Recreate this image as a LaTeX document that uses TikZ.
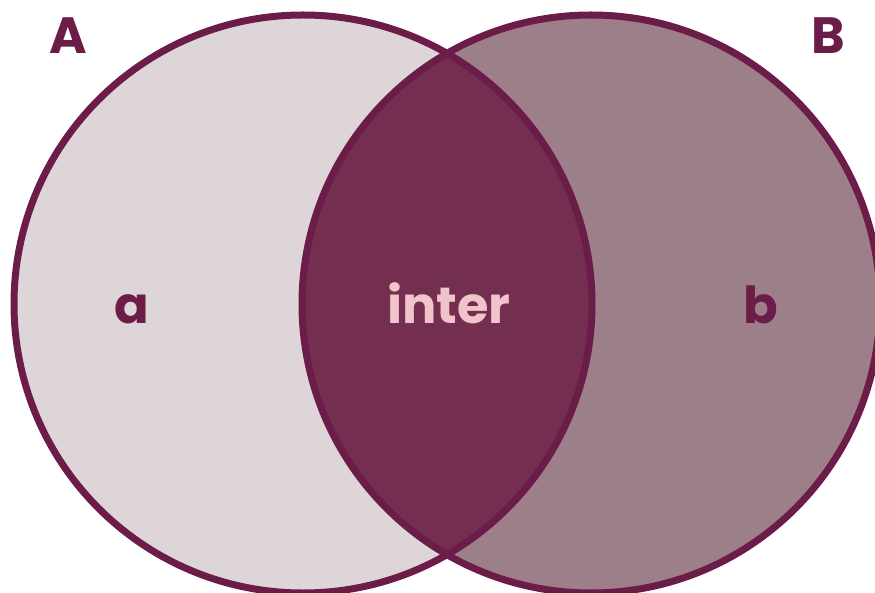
\documentclass[tikz,border=0pt]{standalone}
\usepackage{fontspec}
\setmainfont{Poppins}
\usepackage{xcolor}
\usepackage{tikz}
\usetikzlibrary{positioning}

\definecolor{plum}{HTML}{6B1C48}
\definecolor{setafill}{HTML}{DED5D8}
\definecolor{setbfill}{HTML}{9C7F89}
\definecolor{interfill}{HTML}{732E50}
\definecolor{interpink}{HTML}{F1C3CA}

\begin{document}
\begin{tikzpicture}[
  x=1pt, y=-1pt,
  setcircle/.style={circle, inner sep=0pt, minimum size=578pt},
  ring/.style={draw=plum, line width=7pt},
  setname/.style={font=\fontsize{51}{51}\selectfont\bfseries, text=plum, anchor=base, inner sep=0pt},
  region/.style={font=\fontsize{51}{51}\selectfont\bfseries, anchor=base, inner sep=0pt}
]
\clip (0,0) rectangle (875,593);

% the two sets
\node[setcircle, fill=setafill] (seta) at (303,304) {};
\node[setcircle, fill=setbfill] (setb) at (591,304) {};

% overlap
\begin{scope}
  \clip (seta.center) circle (289pt);
  \fill[interfill] (setb.center) circle (289pt);
\end{scope}

\draw[ring] (seta.center) circle (289pt);
\draw[ring] (setb.center) circle (289pt);

% labels
\node[setname] (labA) at (68,54) {A};
\node[setname] (labB) at (828,54) {B};
\node[region, text=plum] (onlya) at (132,324) {a};
\node[region, text=interpink] (inter) at (449,324) {inter};
\node[region, text=plum] (onlyb) at (761,324) {b};
\end{tikzpicture}
\end{document}
